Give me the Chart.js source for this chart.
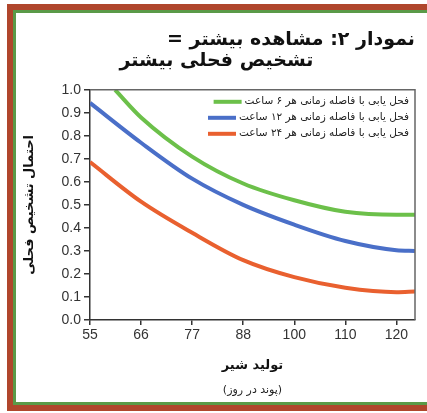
<!DOCTYPE html>
<html lang="fa">
<head>
<meta charset="utf-8">
<script src="https://cdn.jsdelivr.net/npm/chart.js@4.4.1/dist/chart.umd.min.js"></script>
<style>
  html, body { margin: 0; padding: 0; background: #ffffff; }
  #wrap { width: 427px; height: 413px; }
</style>
</head>
<body>
<div id="wrap"><canvas id="c" width="427" height="413" dir="rtl"></canvas></div>
<script>
// Milk yield (lb/day) tick positions and the labels printed under them
const xTickValues = [55, 66, 77, 88, 99, 110, 121];
const xTickLabels = ['55', '66', '77', '88', '100', '110', '120'];

// Series labels
const seriesNames = [
  'فحل یابی با فاصله زمانی هر ۶ ساعت',
  'فحل یابی با فاصله زمانی هر ۱۲ ساعت',
  'فحل یابی با فاصله زمانی هر ۲۴ ساعت'
];

// Probability of heat detection at each milk yield
const every6hX  = [60.4, 66, 77, 88, 99, 110, 121, 125];
const every6hY  = [1.0, 0.88, 0.71, 0.593, 0.52, 0.47, 0.457, 0.457];
const every12hX = [55, 66, 77, 88, 99, 110, 121, 125];
const every12hY = [0.943, 0.77, 0.614, 0.50, 0.414, 0.343, 0.303, 0.30];
const every24hX = [55, 66, 77, 88, 99, 110, 121, 125];
const every24hY = [0.686, 0.514, 0.379, 0.26, 0.186, 0.14, 0.121, 0.124];

const seriesColors = ['#6cc04a', '#4a6fc8', '#e9602f'];

const toPoints = (xs, ys) => xs.map((x, i) => ({ x: x, y: ys[i] }));

const ARABIC_FONT = "'DejaVu Sans', 'Noto Sans', sans-serif";
const LATIN_FONT = "'Liberation Sans', Arial, sans-serif";

// Outer double frame and plot box
const framePlugin = {
  id: 'frame',
  beforeDraw(chart) {
    const ctx = chart.ctx;
    ctx.save();
    ctx.fillStyle = '#ffffff';
    ctx.fillRect(0, 0, chart.width, chart.height);
    ctx.fillStyle = '#b0462c';
    ctx.fillRect(7, 4, chart.width - 7, 6);
    ctx.fillRect(7, 4, 6, 407);
    ctx.fillRect(7, 405, chart.width - 7, 6);
    ctx.fillStyle = '#5a9a48';
    ctx.fillRect(13, 10, chart.width - 13, 3);
    ctx.fillRect(13, 10, 3, 395);
    ctx.fillRect(13, 402, chart.width - 13, 3);
    ctx.restore();
  },
  afterDraw(chart) {
    const a = chart.chartArea;
    const ctx = chart.ctx;
    ctx.save();
    ctx.strokeStyle = '#666666';
    ctx.lineWidth = 1.5;
    ctx.beginPath();
    ctx.moveTo(a.left, a.top);
    ctx.lineTo(a.right, a.top);
    ctx.lineTo(a.right, a.bottom);
    ctx.stroke();
    // unit line under the x-axis title
    ctx.direction = 'rtl';
    ctx.fillStyle = '#222222';
    ctx.font = "11px " + ARABIC_FONT;
    ctx.textAlign = 'center';
    ctx.textBaseline = 'middle';
    ctx.fillText('(پوند در روز)', (a.left + a.right) / 2, 390);
    ctx.restore();
  }
};

// Legend drawn inside the top-right corner of the plot
const insideLegend = {
  id: 'insideLegend',
  afterDatasetsDraw(chart) {
    const a = chart.chartArea;
    const ctx = chart.ctx;
    ctx.save();
    ctx.direction = 'rtl';
    ctx.font = "10.5px " + ARABIC_FONT;
    ctx.textAlign = 'right';
    ctx.textBaseline = 'middle';
    chart.data.datasets.forEach((ds, i) => {
      const xr = a.right - 6;
      const y = a.top + 11 + i * 16;
      const w = ctx.measureText(ds.label).width;
      ctx.fillStyle = '#222222';
      ctx.fillText(ds.label, xr, y);
      ctx.strokeStyle = ds.borderColor;
      ctx.lineWidth = 4;
      ctx.beginPath();
      ctx.moveTo(xr - w - 31, y + 1);
      ctx.lineTo(xr - w - 3, y + 1);
      ctx.stroke();
    });
    ctx.restore();
  }
};

new Chart(document.getElementById('c'), {
  type: 'line',
  data: {
    datasets: [
      { label: seriesNames[0], data: toPoints(every6hX, every6hY), borderColor: seriesColors[0] },
      { label: seriesNames[1], data: toPoints(every12hX, every12hY), borderColor: seriesColors[1] },
      { label: seriesNames[2], data: toPoints(every24hX, every24hY), borderColor: seriesColors[2] }
    ]
  },
  options: {
    responsive: false,
    animation: false,
    devicePixelRatio: 1,
    layout: { padding: { left: 18, right: 12, top: 22, bottom: 40 } },
    elements: {
      line: { borderWidth: 4, cubicInterpolationMode: 'monotone', fill: false },
      point: { radius: 0 }
    },
    plugins: {
      legend: { display: false },
      tooltip: { enabled: false },
      title: {
        display: true,
        text: 'نمودار ۲: مشاهده بیشتر =',
        align: 'end',
        color: '#111111',
        font: { family: ARABIC_FONT, size: 19, weight: 'bold', lineHeight: 1.1 },
        padding: { top: 8, bottom: 0 }
      },
      subtitle: {
        display: true,
        text: 'تشخیص فحلی بیشتر',
        align: 'center',
        color: '#111111',
        font: { family: ARABIC_FONT, size: 19, weight: 'bold', lineHeight: 1.1 },
        padding: { top: 0, bottom: 18 }
      }
    },
    scales: {
      x: {
        type: 'linear',
        min: 55,
        max: 125,
        afterBuildTicks(scale) { scale.ticks = xTickValues.map(v => ({ value: v })); },
        afterFit(scale) { scale.height = 53; },
        ticks: {
          color: '#333333',
          font: { family: LATIN_FONT, size: 14 },
          padding: 2,
          maxRotation: 0,
          autoSkip: false,
          callback: (v, i) => xTickLabels[i]
        },
        grid: { drawOnChartArea: false, tickLength: 5, color: '#333333', lineWidth: 1.5 },
        border: { color: '#333333', width: 1.5 },
        title: {
          display: true,
          text: 'تولید شیر',
          color: '#111111',
          font: { family: ARABIC_FONT, size: 13, weight: 'bold' },
          padding: { top: 3, bottom: 0 }
        }
      },
      y: {
        min: 0,
        max: 1,
        afterFit(scale) { scale.width = 72; },
        ticks: {
          stepSize: 0.1,
          color: '#333333',
          font: { family: LATIN_FONT, size: 14 },
          padding: 3,
          callback: v => v.toFixed(1)
        },
        grid: { drawOnChartArea: false, tickLength: 6, color: '#333333', lineWidth: 1.5 },
        border: { color: '#333333', width: 1.5 },
        title: {
          display: true,
          text: 'احتمال تشخیص فحلی',
          color: '#111111',
          font: { family: ARABIC_FONT, size: 13, weight: 'bold' },
          padding: { top: 4, bottom: 0 }
        }
      }
    }
  },
  plugins: [framePlugin, insideLegend]
});
</script>
</body>
</html>
